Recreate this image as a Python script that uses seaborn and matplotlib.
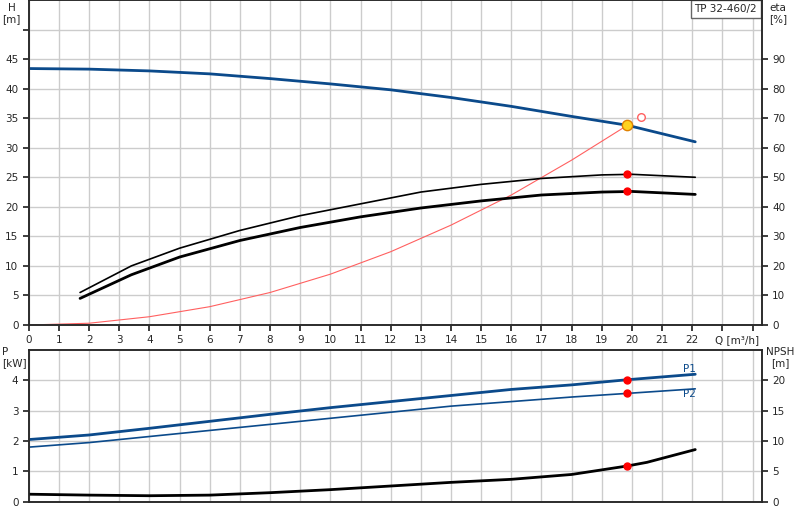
import matplotlib
matplotlib.use("Agg")
import matplotlib.pyplot as plt
import seaborn as sns

# pump curves
q_h = [0, 2, 4, 6, 8, 10, 12, 14, 16, 18, 19.85, 22.1]
head = [43.4, 43.3, 43.0, 42.5, 41.7, 40.8, 39.8, 38.5, 37.0, 35.3, 33.8, 31.0]

q_eta = [1.7, 3.4, 5, 7, 9, 11, 13, 15, 17, 19, 20, 22.1]
eta_total = [11, 20, 26, 32, 37, 41, 45, 47.6, 49.6, 50.8, 51, 50]
eta_hyd = [9, 17, 23, 28.6, 33, 36.6, 39.6, 42, 44, 45, 45.2, 44.2]

q_sys = [0, 2, 4, 6, 8, 10, 12, 14, 16, 18, 19.85]
h_sys = [0, 0.3, 1.4, 3.1, 5.5, 8.6, 12.4, 16.9, 22.0, 27.9, 33.8]

q_p = [0, 2, 4, 6, 8, 10, 12, 14, 16, 18, 19.85, 22.1]
p1 = [2.05, 2.2, 2.42, 2.65, 2.88, 3.1, 3.3, 3.5, 3.7, 3.85, 4.02, 4.2]
p2 = [1.8, 1.95, 2.15, 2.35, 2.55, 2.75, 2.95, 3.15, 3.3, 3.45, 3.57, 3.72]

q_npsh = [0, 2, 4, 6, 8, 10, 12, 14, 16, 18, 19.85, 20.5, 22.1]
npsh = [1.25, 1.1, 1.0, 1.1, 1.5, 2.0, 2.6, 3.2, 3.7, 4.5, 5.9, 6.5, 8.6]

duty_q = 19.85
duty_h = 33.8
duty_eta_total = 51
duty_eta_hyd = 45.2
duty_p1 = 4.02
duty_p2 = 3.57
duty_npsh = 5.9
best_q, best_eta = 20.3, 70.5

blue = "#0b4a8b"

sns.set_theme(style="white")
plt.rcParams["font.family"] = ["DejaVu Sans"]
plt.rcParams["font.size"] = 7.5

fig = plt.figure(figsize=(8, 5.2), dpi=100)
ax = fig.add_axes([0.036, 0.375, 0.916, 0.625])
ax2 = ax.twinx()
bx = fig.add_axes([0.036, 0.035, 0.916, 0.292])
bx2 = bx.twinx()

for a in (ax, bx):
    a.set_xlim(0, 24.3)
    a.set_xticks(range(0, 25))
    a.grid(True, color="#cccccc", lw=1)
    a.set_axisbelow(True)
    for s in a.spines.values():
        s.set_color("#666666")

ax.set_ylim(0, 55)
ax.set_yticks(range(0, 55, 5))
ax.set_yticklabels([str(v) if v <= 45 else "" for v in range(0, 55, 5)])
ax.set_xticklabels([str(v) if v <= 22 else "" for v in range(0, 25)])
ax.text(23.5, -2.6, "Q [m³/h]", ha="center", va="center", fontsize=7.5)
ax2.set_ylim(0, 110)
ax2.set_yticks(range(0, 100, 10))
ax.tick_params(axis="both", length=4, direction="out", left=True, bottom=True, labelsize=7.5)
ax2.tick_params(length=4, right=True, labelsize=7.5)
ax.text(-0.88, 54.5, "H\n[m]", ha="left", va="top", fontsize=7.5, multialignment="center")
ax.text(24.55, 54.5, "eta\n[%]", ha="left", va="top", fontsize=7.5, clip_on=False)
ax.text(24.15, 54.3, "TP 32-460/2", ha="right", va="top", fontsize=7.5,
        bbox=dict(facecolor="white", edgecolor="#666666", boxstyle="square,pad=0.35"))

sns.lineplot(x=q_h, y=head, ax=ax, color=blue, lw=2)
sns.lineplot(x=q_sys, y=h_sys, ax=ax, color="#ff6060", lw=0.8)
sns.lineplot(x=q_eta, y=eta_total, ax=ax2, color="black", lw=1.2)
sns.lineplot(x=q_eta, y=eta_hyd, ax=ax2, color="black", lw=2)
ax2.scatter([duty_q, duty_q], [duty_eta_total, duty_eta_hyd], color="red", s=25, zorder=5)
ax2.scatter([best_q], [best_eta], facecolor="white", edgecolor="#ff6060", s=30, zorder=5)
ax.scatter([duty_q], [duty_h], color="#ffd21f", edgecolor="#e08000", s=55, zorder=6)

bx.set_ylim(0, 5)
bx.set_yticks(range(0, 5))
bx.set_xticklabels([])
bx2.set_ylim(0, 25)
bx2.set_yticks(range(0, 25, 5))
bx.tick_params(axis="y", length=4, left=True, labelsize=7.5)
bx.tick_params(axis="x", length=0)
bx2.tick_params(length=4, right=True, labelsize=7.5)
bx.text(-0.88, 5.1, "P\n[kW]", ha="left", va="top", fontsize=7.5, clip_on=False)
bx.text(24.45, 5.1, "NPSH\n[m]", ha="left", va="top", fontsize=7.5, clip_on=False,
        multialignment="center")

sns.lineplot(x=q_p, y=p1, ax=bx, color=blue, lw=2)
sns.lineplot(x=q_p, y=p2, ax=bx, color=blue, lw=1.2)
bx.scatter([duty_q, duty_q], [duty_p1, duty_p2], color="red", s=25, zorder=5)
bx.text(21.9, 4.22, "P1", color=blue, ha="center", va="bottom", fontsize=7.5)
bx.text(21.9, 3.7, "P2", color=blue, ha="center", va="top", fontsize=7.5)
sns.lineplot(x=q_npsh, y=npsh, ax=bx2, color="black", lw=2)
bx2.scatter([duty_q], [duty_npsh], color="red", s=25, zorder=5)

for a in (ax, ax2, bx, bx2):
    a.set_xlabel("")
    a.set_ylabel("")

fig.savefig("out.png", dpi=100)
